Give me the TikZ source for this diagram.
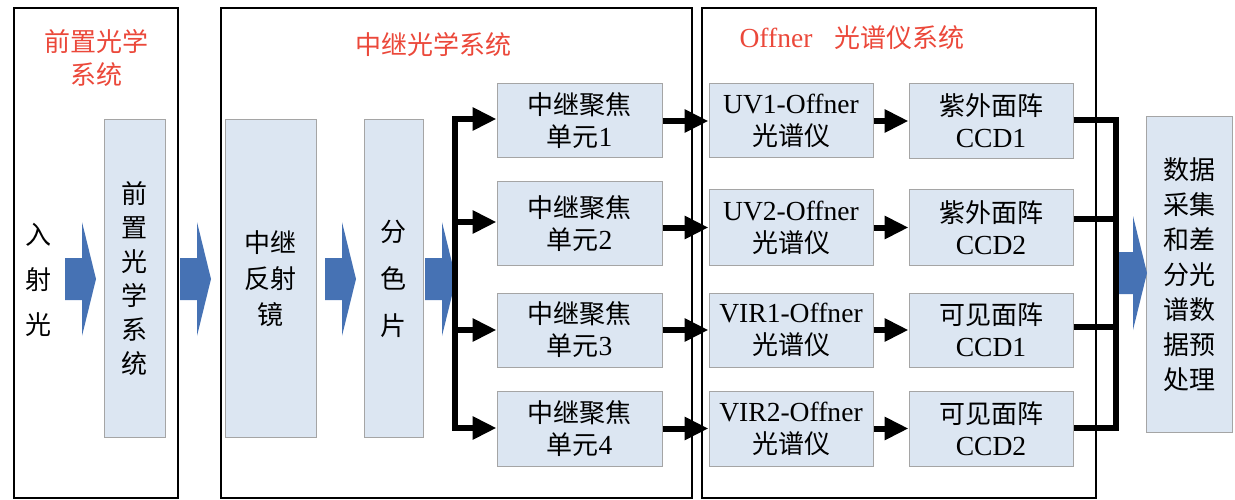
\documentclass[tikz,border=0pt]{standalone}
\usepackage{fontspec}
\setmainfont{Liberation Serif}[Scale=1.06]
\newfontfamily\cjk{Noto Sans CJK SC}
\newcommand\latn[1]{{\rmfamily #1}}
\usetikzlibrary{arrows.meta}
\definecolor{boxfill}{RGB}{220,230,242}
\definecolor{boxline}{RGB}{165,165,165}
\definecolor{arrowblue}{RGB}{70,114,180}
\definecolor{titlered}{RGB}{235,72,58}
\tikzset{
  frame/.style={draw=black, line width=2.2pt},
  blk/.style={draw=boxline, line width=1pt, fill=boxfill, inner sep=0pt, align=center,
    font=\cjk\fontsize{26}{32}\selectfont},
  ttl/.style={text=titlered, align=center, inner sep=0pt, font=\cjk\fontsize{26}{33}\selectfont},
  plain/.style={align=center, inner sep=0pt, font=\cjk\fontsize{26}{45}\selectfont},
  conn/.style={line width=6pt, -{Triangle[length=24pt,width=22pt]}},
  bus/.style={line width=6pt},
  barrow/.pic={\fill[arrowblue] (0,-21) -- (17,-21) -- (17,-57) -- (31,0) -- (17,57) -- (17,21) -- (0,21) -- cycle;}
}
\begin{document}
\begin{tikzpicture}[x=1pt,y=-1pt]
\useasboundingbox (0,0) rectangle (1235,500);
% frames
\draw[frame] (14,8) rectangle (178,498);
\draw[frame] (221,8) rectangle (692,498);
\draw[frame] (702,8) rectangle (1096,498);
% titles
\node[ttl] (t1) at (96,58) {前置光学\\系统};
\node[ttl] (t2) at (433,45) {中继光学系统};
\node[ttl] (t3) at (852,38) {\latn{Offner}\hspace{22pt}光谱仪系统};
% input text
\node[plain] (in) at (38,280) {入\\射\\光};
% tall boxes
\node[blk, minimum width=61pt, minimum height=317pt, font=\cjk\fontsize{26}{34}\selectfont] (pre) at (134.5,278.5) {前\\置\\光\\学\\系\\统};
\node[blk, minimum width=91pt, minimum height=317pt, font=\cjk\fontsize{26}{36}\selectfont] (mir) at (270.5,278.5) {中继\\反射\\镜};
\node[blk, minimum width=59pt, minimum height=317pt, font=\cjk\fontsize{26}{47}\selectfont] (spl) at (393.5,278.5) {分\\色\\片};
% relay units
\node[blk, minimum width=165pt, minimum height=74pt] (u1) at (579.5,121) {中继聚焦\\单元\latn{1}};
\node[blk, minimum width=165pt, minimum height=83pt] (u2) at (579.5,223.5) {中继聚焦\\单元\latn{2}};
\node[blk, minimum width=165pt, minimum height=74pt] (u3) at (579.5,330) {中继聚焦\\单元\latn{3}};
\node[blk, minimum width=165pt, minimum height=75pt] (u4) at (579.5,428.5) {中继聚焦\\单元\latn{4}};
% offner
\node[blk, minimum width=164pt, minimum height=74pt] (o1) at (791,121) {\latn{UV1-Offner}\\光谱仪};
\node[blk, minimum width=164pt, minimum height=75pt] (o2) at (791,227.5) {\latn{UV2-Offner}\\光谱仪};
\node[blk, minimum width=164pt, minimum height=74pt] (o3) at (791,330) {\latn{VIR1-Offner}\\光谱仪};
\node[blk, minimum width=164pt, minimum height=75pt] (o4) at (791,428.5) {\latn{VIR2-Offner}\\光谱仪};
% CCD
\node[blk, minimum width=164pt, minimum height=75pt] (c1) at (991,121) {紫外面阵\\\latn{CCD1}};
\node[blk, minimum width=164pt, minimum height=75pt] (c2) at (991,227.5) {紫外面阵\\\latn{CCD2}};
\node[blk, minimum width=164pt, minimum height=74pt] (c3) at (991,330) {可见面阵\\\latn{CCD1}};
\node[blk, minimum width=164pt, minimum height=75pt] (c4) at (991,428.5) {可见面阵\\\latn{CCD2}};
% data box
\node[blk, minimum width=86pt, minimum height=315pt, font=\cjk\fontsize{26}{35}\selectfont] (dat) at (1189,274.5) {数据\\采集\\和差\\分光\\谱数\\据预\\处理};
% blue block arrows
\pic at (65,279) {barrow};
\pic at (180,279) {barrow};
\pic at (325,279) {barrow};
\pic at (425,279) {barrow};
\pic at (1116,273) {barrow};
% relay bus
\coordinate (b1) at (455,119);
\coordinate (b2) at (455,222);
\coordinate (b3) at (455,330);
\coordinate (b4) at (455,428);
\draw[bus, line cap=rect] (b1) -- (b4);
\draw[conn] (b1) -- (b1 -| u1.west);
\draw[conn] (b2) -- (b2 -| u2.west);
\draw[conn] (b3) -- (b3 -| u3.west);
\draw[conn] (b4) -- (b4 -| u4.west);
% unit -> offner
\draw[conn] (o1.west -| u1.east) -- (o1.west);
\draw[conn] (o2.west -| u2.east) -- (o2.west);
\draw[conn] (o3.west -| u3.east) -- (o3.west);
\draw[conn] (o4.west -| u4.east) -- (o4.west);
% offner -> ccd
\draw[conn] (o1.east) -- (c1.west);
\draw[conn] (o2.east) -- (c2.west);
\draw[conn] (o3.east) -- (c3.west);
\draw[conn] (o4.east) -- (c4.west);
% ccd outputs bus
\coordinate (r1) at (1116,120);
\coordinate (r2) at (1116,219);
\coordinate (r3) at (1116,327);
\coordinate (r4) at (1116,428);
\draw[bus, line join=miter] (r1 -| c1.east) -- (r1) -- (r4) -- (r4 -| c4.east);
\draw[bus] (r2 -| c2.east) -- (r2);
\draw[bus] (r3 -| c3.east) -- (r3);
\end{tikzpicture}
\end{document}
